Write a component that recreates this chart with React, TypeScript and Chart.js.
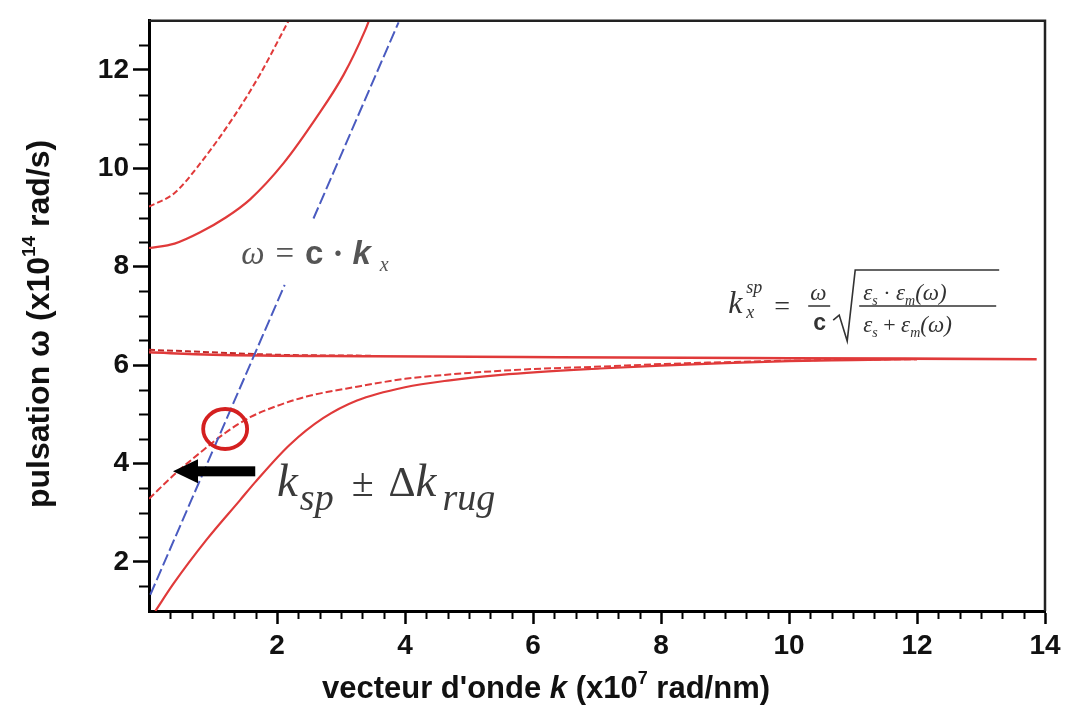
import React, { useEffect, useRef } from 'react';
import { Chart, registerables } from 'chart.js';

Chart.register(...registerables);

// ---- axis ticks ----
const X_TICKS = [2, 4, 6, 8, 10, 12, 14];
const Y_TICKS = [2, 4, 6, 8, 10, 12];
const X_RANGE = [0, 14];
const Y_RANGE = [1, 13];
const X_MINOR_STEP = 1 / 3;
const Y_MINOR_STEP = 0.5;

// ---- curves (k in 1e7 rad/nm, omega in 1e14 rad/s) ----
const upperDashK = [0, 0.4, 0.8, 1.32, 1.73, 2.1, 2.2];
const upperDashW = [9.22, 9.5, 10.1, 11.04, 11.9, 12.8, 13.05];

const upperSolidK = [0, 0.4, 0.8, 1.2, 1.58, 2.1, 2.62, 3.04, 3.375, 3.45];
const upperSolidW = [8.38, 8.47, 8.7, 9.0, 9.37, 10.1, 11.04, 11.9, 12.8, 13.05];

const lightLineK = [0.02, 2.12, 2.35, 2.57, 3.9];
const lightLineW: (number | null)[] = [1.33, 7.63, null, 8.98, 12.97];

const asymSolidK = [0, 1, 3.5, 6.4, 10, 13.87];
const asymSolidW = [6.26, 6.21, 6.18, 6.16, 6.14, 6.12];

const asymDashK = [0, 0.8, 2, 3.5];
const asymDashW = [6.31, 6.27, 6.21, 6.19];

const lowerDashK = [0, 0.4, 0.8, 1.19, 1.58, 2.0, 2.46, 3.25, 4, 5, 6, 7.05, 8, 9, 10, 11, 12];
const lowerDashW = [3.28, 3.78, 4.22, 4.62, 4.94, 5.17, 5.36, 5.56, 5.72, 5.84, 5.92, 5.97, 6.02, 6.06, 6.09, 6.11, 6.12];

const lowerSolidK = [0.1, 0.38, 0.9, 1.42, 1.66, 2.2, 2.72, 3.25, 4, 4.7, 5.5, 7.05, 8, 9, 10, 11, 12];
const lowerSolidW = [1.0, 1.55, 2.45, 3.25, 3.62, 4.38, 4.92, 5.28, 5.55, 5.69, 5.8, 5.93, 5.99, 6.04, 6.08, 6.1, 6.12];

// ---- annotation anchors (data units) ----
const CIRCLE_AT = [1.19, 4.7];
const ARROW_FROM = [1.66, 3.84];
const ARROW_TO = [0.375, 3.84];
const LIGHT_LABEL_AT = [1.44, 8.05];
const KSP_LABEL_AT = [2.0, 3.34];
const FORMULA_AT = [9.05, 7.2];

const RED = '#e03a3a';
const BLUE = '#4a5bc0';
const SANS = '"Liberation Sans", Arial, sans-serif';
const SERIF = '"Liberation Serif", "Times New Roman", serif';

type Part = { t: string; font: string; dy?: number; gap?: number };

function drawParts(ctx: CanvasRenderingContext2D, x: number, y: number, parts: Part[]) {
  let cx = x;
  for (const p of parts) {
    cx += p.gap || 0;
    ctx.font = p.font;
    ctx.fillText(p.t, cx, y + (p.dy || 0));
    cx += ctx.measureText(p.t).width;
  }
  return cx - x;
}
function measureParts(ctx: CanvasRenderingContext2D, parts: Part[]) {
  let w = 0;
  for (const p of parts) {
    ctx.font = p.font;
    w += (p.gap || 0) + ctx.measureText(p.t).width;
  }
  return w;
}

const decorPlugin = {
  id: 'decor',
  afterDraw(chart: any) {
    const { ctx, chartArea } = chart;
    const { left, right, top, bottom } = chartArea;
    const xs = chart.scales.x;
    const ys = chart.scales.y;
    ctx.save();

    // minor ticks
    ctx.strokeStyle = '#000';
    ctx.lineWidth = 2;
    ctx.beginPath();
    for (let i = 1; i * X_MINOR_STEP < X_RANGE[1] - 1e-6; i++) {
      const v = i * X_MINOR_STEP;
      if (Math.abs(v / 2 - Math.round(v / 2)) < 1e-6) continue;
      const px = Math.round(xs.getPixelForValue(v)) + 0.5;
      ctx.moveTo(px, bottom);
      ctx.lineTo(px, bottom + 8);
    }
    for (let i = 1; Y_RANGE[0] + i * Y_MINOR_STEP < Y_RANGE[1] - 1e-6; i++) {
      const v = Y_RANGE[0] + i * Y_MINOR_STEP;
      if (Math.abs(v / 2 - Math.round(v / 2)) < 1e-6) continue;
      const py = Math.round(ys.getPixelForValue(v)) + 0.5;
      ctx.moveTo(left - 10, py);
      ctx.lineTo(left, py);
    }
    ctx.stroke();

    // top / right frame
    ctx.strokeStyle = '#222';
    ctx.lineWidth = 2.5;
    ctx.beginPath();
    ctx.moveTo(left, top);
    ctx.lineTo(right, top);
    ctx.lineTo(right, bottom);
    ctx.stroke();

    // red circle
    const cx = xs.getPixelForValue(CIRCLE_AT[0]);
    const cy = ys.getPixelForValue(CIRCLE_AT[1]);
    ctx.strokeStyle = '#d42020';
    ctx.lineWidth = 3.8;
    ctx.beginPath();
    ctx.ellipse(cx, cy, 22, 20, 0, 0, Math.PI * 2);
    ctx.stroke();

    // black arrow
    const ax0 = xs.getPixelForValue(ARROW_FROM[0]);
    const ax1 = xs.getPixelForValue(ARROW_TO[0]);
    const ay = ys.getPixelForValue(ARROW_FROM[1]);
    ctx.fillStyle = '#000';
    ctx.fillRect(ax1 + 20, ay - 5, ax0 - ax1 - 20, 10);
    ctx.beginPath();
    ctx.moveTo(ax1, ay);
    ctx.lineTo(ax1 + 25, ay - 12);
    ctx.lineTo(ax1 + 25, ay + 12);
    ctx.closePath();
    ctx.fill();

    ctx.textBaseline = 'alphabetic';
    ctx.textAlign = 'left';

    // omega = c . k_x label
    ctx.fillStyle = '#555';
    drawParts(ctx, xs.getPixelForValue(LIGHT_LABEL_AT[0]), ys.getPixelForValue(LIGHT_LABEL_AT[1]), [
      { t: 'ω', font: `italic 33px ${SERIF}` },
      { t: '=', font: `33px ${SERIF}`, gap: 11 },
      { t: 'c', font: `bold 33px ${SANS}`, gap: 11 },
      { t: '·', font: `bold 33px ${SERIF}`, gap: 9 },
      { t: 'k', font: `italic bold 33px ${SANS}`, gap: 9 },
      { t: 'x', font: `italic 20px ${SERIF}`, dy: 7, gap: 9 },
    ]);

    // k_sp +- Delta k_rug
    ctx.fillStyle = '#3a3a3a';
    drawParts(ctx, xs.getPixelForValue(KSP_LABEL_AT[0]), ys.getPixelForValue(KSP_LABEL_AT[1]), [
      { t: 'k', font: `italic 47px ${SERIF}` },
      { t: 'sp', font: `italic 38px ${SERIF}`, dy: 14, gap: 2 },
      { t: '±', font: `40px ${SERIF}`, gap: 18 },
      { t: 'Δ', font: `42px ${SERIF}`, gap: 15 },
      { t: 'k', font: `italic 47px ${SERIF}` },
      { t: 'rug', font: `italic 38px ${SERIF}`, dy: 14, gap: 6 },
    ]);

    // formula
    const fx = xs.getPixelForValue(FORMULA_AT[0]);
    const fy = ys.getPixelForValue(FORMULA_AT[1]);
    ctx.fillStyle = '#333';
    ctx.strokeStyle = '#333';
    ctx.font = `italic 32px ${SERIF}`;
    ctx.fillText('k', fx, fy + 7);
    ctx.font = `italic 18px ${SERIF}`;
    ctx.fillText('sp', fx + 18, fy - 13);
    ctx.fillText('x', fx + 18, fy + 12);
    ctx.font = `28px ${SERIF}`;
    ctx.fillText('=', fx + 46, fy + 9);
    ctx.font = `italic 23px ${SERIF}`;
    ctx.fillText('ω', fx + 82, fy - 6);
    ctx.font = `bold 23px ${SANS}`;
    ctx.fillText('c', fx + 85, fy + 24);
    ctx.lineWidth = 1.6;
    ctx.beginPath();
    ctx.moveTo(fx + 80, fy);
    ctx.lineTo(fx + 102, fy);
    // radical
    ctx.moveTo(fx + 105, fy + 14);
    ctx.lineTo(fx + 111, fy + 9);
    ctx.lineTo(fx + 119, fy + 35);
    ctx.lineTo(fx + 127, fy - 36);
    ctx.lineTo(fx + 271, fy - 36);
    // inner bar
    ctx.moveTo(fx + 131, fy);
    ctx.lineTo(fx + 268, fy);
    ctx.stroke();
    const num: Part[] = [
      { t: 'ε', font: `italic 23px ${SERIF}` },
      { t: 's', font: `italic 14px ${SERIF}`, dy: 5 },
      { t: ' · ', font: `22px ${SERIF}` },
      { t: 'ε', font: `italic 23px ${SERIF}` },
      { t: 'm', font: `italic 14px ${SERIF}`, dy: 5 },
      { t: '(ω)', font: `italic 23px ${SERIF}` },
    ];
    const den: Part[] = [
      { t: 'ε', font: `italic 23px ${SERIF}` },
      { t: 's', font: `italic 14px ${SERIF}`, dy: 5 },
      { t: ' + ', font: `22px ${SERIF}` },
      { t: 'ε', font: `italic 23px ${SERIF}` },
      { t: 'm', font: `italic 14px ${SERIF}`, dy: 5 },
      { t: '(ω)', font: `italic 23px ${SERIF}` },
    ];
    drawParts(ctx, fx + 135, fy - 6, num);
    drawParts(ctx, fx + 135, fy + 26, den);

    // axis titles
    ctx.fillStyle = '#111';
    const xt: Part[] = [
      { t: "vecteur d'onde ", font: `bold 31px ${SANS}` },
      { t: 'k', font: `italic bold 31px ${SANS}` },
      { t: ' (x10', font: `bold 31px ${SANS}` },
      { t: '7', font: `bold 18px ${SANS}`, dy: -14 },
      { t: ' rad/nm)', font: `bold 31px ${SANS}` },
    ];
    const xw = measureParts(ctx, xt);
    drawParts(ctx, 546 - xw / 2, 698, xt);

    const yt: Part[] = [
      { t: 'pulsation ω (x10', font: `bold 32px ${SANS}` },
      { t: '14', font: `bold 19px ${SANS}`, dy: -14 },
      { t: ' rad/s)', font: `bold 32px ${SANS}` },
    ];
    const yw = measureParts(ctx, yt);
    ctx.translate(49, (top + bottom) / 2 + 8);
    ctx.rotate(-Math.PI / 2);
    drawParts(ctx, -yw / 2, 0, yt);
    ctx.restore();
  },
};

export default function App() {
  const ref = useRef<HTMLCanvasElement>(null);
  useEffect(() => {
    const canvas = ref.current!;
    const mk = (k: number[], w: (number | null)[]) => k.map((x, i) => ({ x, y: w[i] }));
    const base = { pointRadius: 0, fill: false, cubicInterpolationMode: 'monotone' as const, spanGaps: false };
    const tickFont = { family: SANS, size: 28, weight: 'bold' as const };
    const chart = new Chart(canvas, {
      type: 'line',
      data: {
        datasets: [
          { ...base, label: 'light', data: mk(lightLineK, lightLineW), borderColor: BLUE, borderWidth: 2, borderDash: [12, 4] },
          { ...base, label: 'upper dashed', data: mk(upperDashK, upperDashW), borderColor: RED, borderWidth: 2, borderDash: [6, 3] },
          { ...base, label: 'upper solid', data: mk(upperSolidK, upperSolidW), borderColor: RED, borderWidth: 2.2 },
          { ...base, label: 'asym solid', data: mk(asymSolidK, asymSolidW), borderColor: RED, borderWidth: 2.6 },
          { ...base, label: 'asym dashed', data: mk(asymDashK, asymDashW), borderColor: '#c02828', borderWidth: 2, borderDash: [6, 3] },
          { ...base, label: 'lower dashed', data: mk(lowerDashK, lowerDashW), borderColor: RED, borderWidth: 2, borderDash: [7, 3] },
          { ...base, label: 'lower solid', data: mk(lowerSolidK, lowerSolidW), borderColor: RED, borderWidth: 2.2 },
        ] as any,
      },
      options: {
        responsive: false,
        animation: false,
        events: [],
        layout: { padding: { left: 0, top: 12, right: 25, bottom: 0 } },
        plugins: { legend: { display: false }, tooltip: { enabled: false } },
        scales: {
          x: {
            type: 'linear',
            position: 'bottom',
            min: X_RANGE[0],
            max: X_RANGE[1],
            afterBuildTicks: (s: any) => { s.ticks = X_TICKS.map((v) => ({ value: v })); },
            afterFit: (s: any) => { s.height = 95; },
            ticks: { font: tickFont, color: '#111', padding: 5, maxRotation: 0, autoSkip: false },
            grid: { drawOnChartArea: false, drawTicks: true, tickLength: 13, tickWidth: 2.5, tickColor: '#000' },
            border: { display: true, color: '#000', width: 3 },
          },
          y: {
            type: 'linear',
            position: 'left',
            min: Y_RANGE[0],
            max: Y_RANGE[1],
            afterBuildTicks: (s: any) => { s.ticks = Y_TICKS.map((v) => ({ value: v })); },
            afterFit: (s: any) => { s.width = 149; },
            ticks: { font: tickFont, color: '#111', padding: 4, autoSkip: false },
            grid: { drawOnChartArea: false, drawTicks: true, tickLength: 16, tickWidth: 2.5, tickColor: '#000' },
            border: { display: true, color: '#000', width: 3 },
          },
        },
      } as any,
      plugins: [decorPlugin],
    });
    return () => chart.destroy();
  }, []);
  return (
    <div style={{ position: 'absolute', left: 0, top: 0, width: 1070, height: 706, background: '#fff' }}>
      <canvas ref={ref} width={1070} height={706} style={{ display: 'block' }} />
    </div>
  );
}
